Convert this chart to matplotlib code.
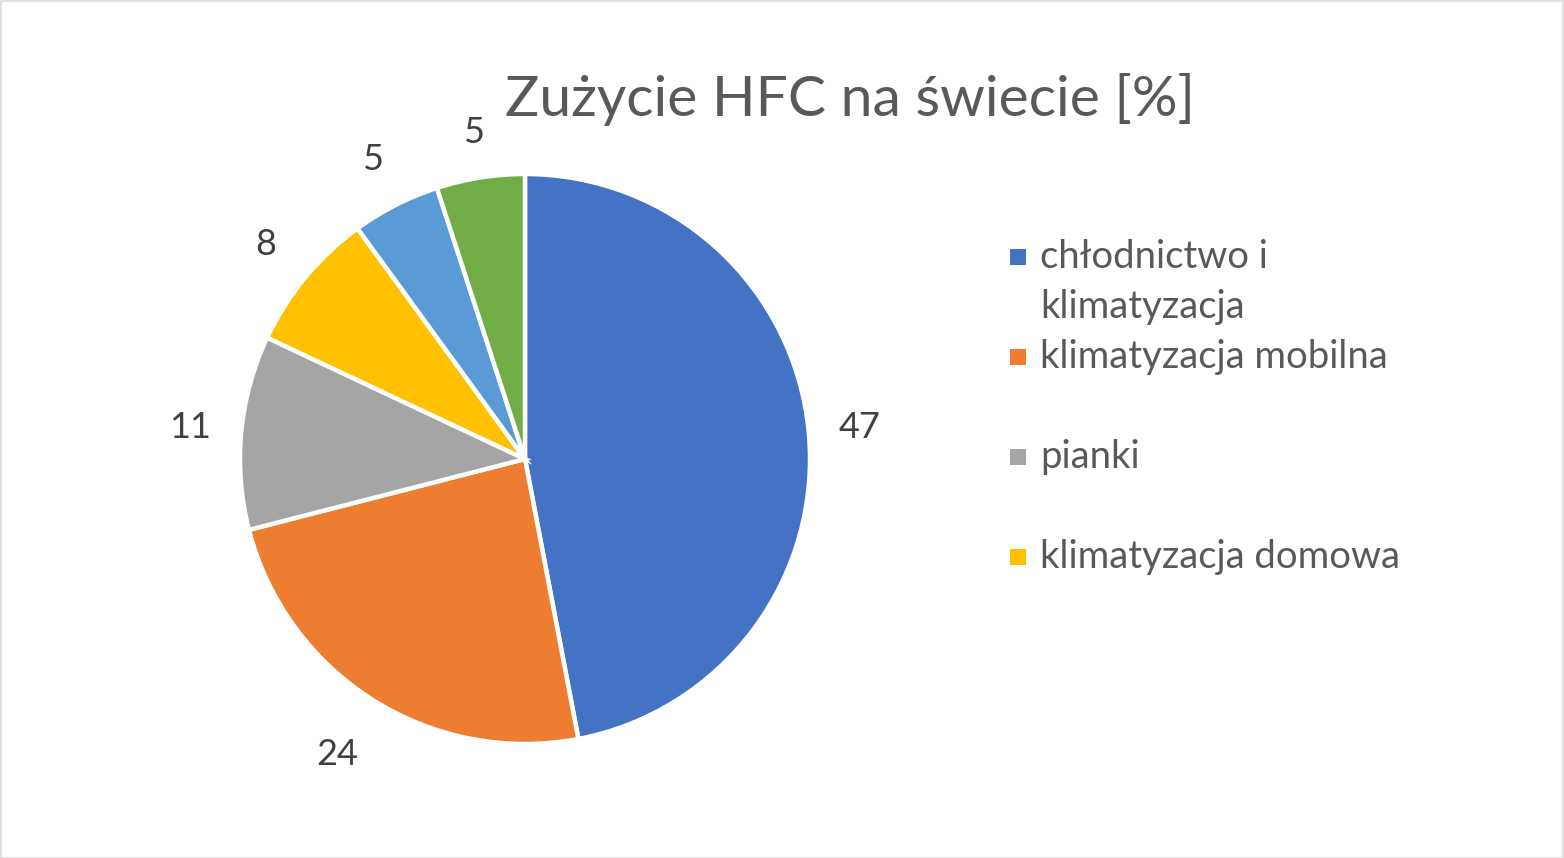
import textwrap
import numpy as np
import matplotlib
matplotlib.use("Agg")
import matplotlib.pyplot as plt
from matplotlib.patches import Rectangle

# ---- data ----
categories = ["chłodnictwo i klimatyzacja", "klimatyzacja mobilna", "pianki",
              "klimatyzacja domowa", "aerozole", "inne"]
values = [47, 24, 11, 8, 5, 5]
colors = ["#4472C4", "#ED7D31", "#A5A5A5", "#FFC000", "#5B9BD5", "#70AD47"]
title = "Zużycie HFC na świecie [%]"
legend_shown = 4  # legend is truncated in the original chart
label_dist = [1.18, 1.23, 1.18, 1.18, 1.18, 1.16]

FONT = ["Lato", "DejaVu Sans"]
plt.rcParams["font.family"] = FONT

W, H = 1564, 858
fig = plt.figure(figsize=(W / 100, H / 100), dpi=100)
fig.patch.set_facecolor("white")

# figure border
fig.patches.append(Rectangle((0.5 / W, 0.5 / H), 1 - 1.5 / W, 1 - 1.5 / H,
                             transform=fig.transFigure, fill=False,
                             edgecolor="#D9D9D9", linewidth=1.2))

cx, cy, r = 525, 459, 285
ax = fig.add_axes([(cx - r) / W, (H - cy - r) / H, 2 * r / W, 2 * r / H])
wedges, _ = ax.pie(values, colors=colors, startangle=90, counterclock=False,
                   wedgeprops=dict(edgecolor="white", linewidth=3.2))
for w, v, d in zip(wedges, values, label_dist):
    ang = np.deg2rad((w.theta1 + w.theta2) / 2)
    ax.text(d * np.cos(ang), d * np.sin(ang), str(v), ha="center", va="center",
            fontsize=26, color="#404040")
ax.set_xlim(-1, 1)
ax.set_ylim(-1, 1)
ax.set_aspect("equal")
ax.axis("off")

fig.text(850 / W, 1 - 100 / H, title, ha="center", va="center",
         fontsize=41, color="#595959")

# legend
y = 257
for name, col in zip(categories[:legend_shown], colors[:legend_shown]):
    lines = textwrap.wrap(name, 20)
    fig.patches.append(Rectangle(((1010) / W, 1 - (y + 8) / H), 16 / W, 16 / H,
                                 transform=fig.transFigure, facecolor=col,
                                 edgecolor="none"))
    for i, ln in enumerate(lines):
        fig.text(1040 / W, 1 - (y + 50 * i) / H, ln, ha="left", va="center",
                 fontsize=27.5, color="#595959")
    y += 100

fig.savefig("out.png", dpi=100)
